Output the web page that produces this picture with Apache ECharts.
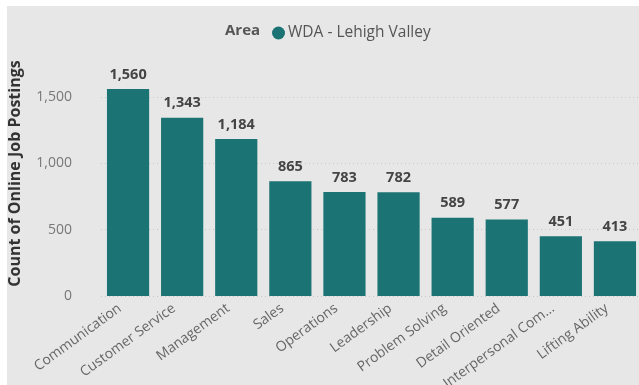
<!DOCTYPE html>
<html>
<head>
<meta charset="utf-8">
<script src="https://cdn.jsdelivr.net/npm/echarts@6/dist/echarts.min.js"></script>
<style>
html,body{margin:0;padding:0;background:#ffffff;width:639px;height:385px;overflow:hidden;}
#c{position:absolute;left:7px;top:6px;width:650px;height:379px;background:#e7e7e7;}
</style>
</head>
<body>
<div id="c"></div>
<script>
const categories = ["Communication","Customer Service","Management","Sales","Operations","Leadership","Problem Solving","Detail Oriented","Interpersonal Communication","Lifting Ability"];
const values = [1560,1343,1184,865,783,782,589,577,451,413];
const yTicks = [0,500,1000,1500];
const seriesName = "WDA - Lehigh Valley";
const legendTitle = "Area";
const yAxisTitle = "Count of Online Job Postings";

const chart = echarts.init(document.getElementById('c'), null, {renderer:'canvas'});
const font = "'Open Sans', 'Noto Sans', sans-serif";
chart.setOption({
  animation:false,
  textStyle:{fontFamily:font},
  title:{text:legendTitle,left:213,top:12,textStyle:{fontSize:15,fontWeight:'bold',color:'#555',fontFamily:font}},
  legend:{data:[seriesName],left:260,top:14,icon:'circle',itemWidth:13,itemHeight:13,itemGap:3,
    textStyle:{fontSize:15.5,color:'#555',fontFamily:font,padding:[0,0,0,-2]}},
  grid:{left:94,top:91,width:541,bottom:89,containLabel:false,outerBoundsMode:'none'},
  xAxis:{type:'category',data:categories,
    axisLine:{show:false},axisTick:{show:false},
    axisLabel:{rotate:36,interval:0,fontSize:14,color:'#666',margin:5,fontFamily:font,padding:[0,10,0,0],
      formatter:v=>v.length>18?v.slice(0,17)+'...':v}},
  yAxis:{type:'value',min:0,max:1500,interval:500,
    name:yAxisTitle,nameLocation:'middle',nameGap:78,nameRotate:90,
    nameTextStyle:{fontSize:16,fontWeight:'bold',color:'#333',fontFamily:font,padding:[0,0,0,46]},
    axisLabel:{fontSize:14,color:'#777',margin:29,fontFamily:font,
      formatter:v=>v.toLocaleString('en-US')},
    axisLine:{show:false},axisTick:{show:false},
    splitLine:{show:true,lineStyle:{color:'#c8c8c8',type:[1,3],width:1}}},
  series:[{name:seriesName,type:'bar',data:values,clip:false,barCategoryGap:'22%',
    itemStyle:{color:'#1b7373'},
    label:{show:true,position:'top',distance:7,fontSize:14.5,fontWeight:'bold',color:'#444',fontFamily:font,
      formatter:p=>p.value.toLocaleString('en-US')}}]
});
</script>
</body>
</html>
